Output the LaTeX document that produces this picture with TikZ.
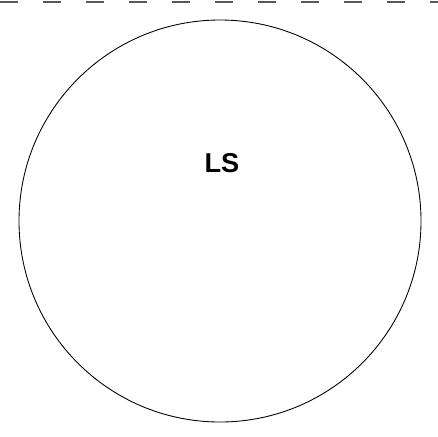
\documentclass[tikz,border=0pt]{standalone}
\usepackage{fontspec}
\setmainfont{Liberation Sans}
\usepackage{tikz}
\usetikzlibrary{positioning}

\begin{document}
\begin{tikzpicture}[
    region/.style={circle, draw, line width=0.5pt, minimum size=8.04cm, inner sep=0pt},
    tag/.style={font=\fontsize{15.5}{18}\selectfont\bfseries},
    border/.style={dashed, line width=0.8pt, dash pattern=on 0.36cm off 0.5cm, gray!70!black}
]
\useasboundingbox (0,0) rectangle (8.76,-8.72);
% Frame
\coordinate (edgel) at (0,-0.04);
\coordinate (edger) at (8.76,-0.04);
\draw[border] (edgel) -- (edger);

% Nodes
\node[region] (set) at (4.40,-4.42) {};
\node[tag] (ls) at (4.44,-3.26) {LS};
\end{tikzpicture}
\end{document}
